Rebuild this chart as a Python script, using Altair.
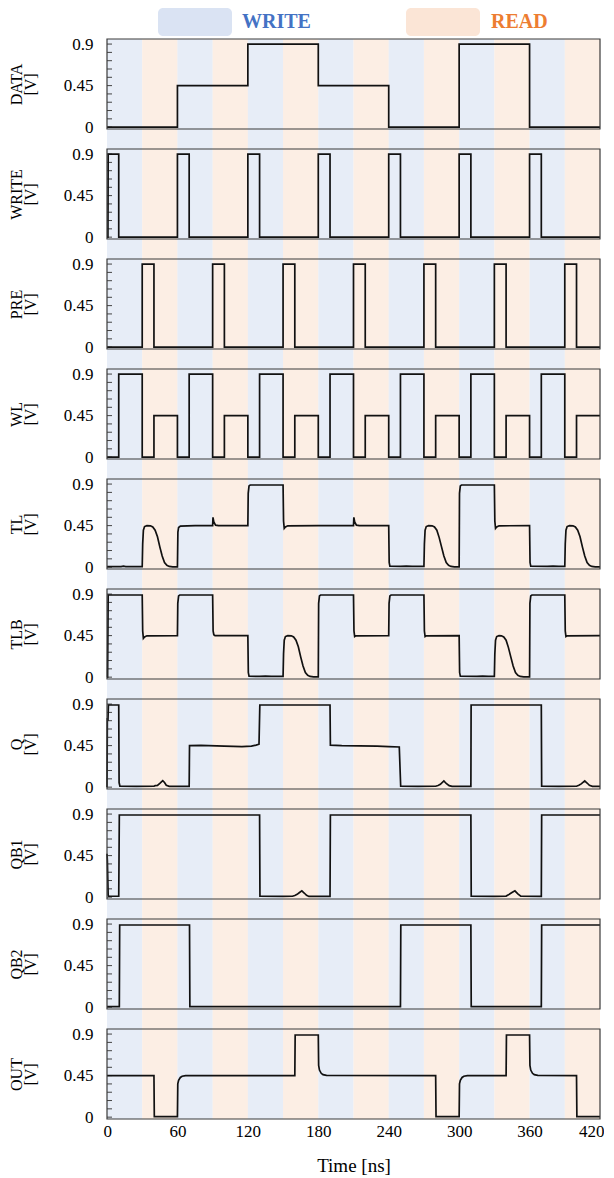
import altair as alt
import pandas as pd

# ---------------- data ----------------
BAND_START = [0, 30, 60, 90, 120, 150, 180, 210, 240, 270, 300, 330, 360, 390]
BAND_END = [30, 60, 90, 120, 150, 180, 210, 240, 270, 300, 330, 360, 390, 420]
BAND_PHASE = ["WRITE", "READ", "WRITE", "READ", "WRITE", "READ", "WRITE",
              "READ", "WRITE", "READ", "WRITE", "READ", "WRITE", "READ"]

PHASES = ["WRITE", "READ"]
BOX_COLORS = ["#DAE3F3", "#FBE5D6"]
TEXT_COLORS = ["#4472C4", "#ED7D31"]

X_TICKS = [0, 60, 120, 180, 240, 300, 360, 420]
Y_LABELS = [0, 0.45, 0.9]
Y_MINOR = [0, 0.09, 0.18, 0.27, 0.36, 0.45, 0.54, 0.63, 0.72, 0.81, 0.9]

DATA = [(0, 0), (60, 0), (60, 0.45), (120, 0.45), (120, 0.9), (180, 0.9), (180, 0.45),
        (240, 0.45), (240, 0), (300, 0), (300, 0.9), (360, 0.9), (360, 0), (420, 0)]

WRITE = [(0, 0), (0.8, 0), (1.0, 0.9), (10, 0.9), (10, 0), (60, 0), (60, 0.9), (70, 0.9),
         (70, 0), (120, 0), (120, 0.9), (130, 0.9), (130, 0), (180, 0), (180, 0.9),
         (190, 0.9), (190, 0), (240, 0), (240, 0.9), (250, 0.9), (250, 0), (300, 0),
         (300, 0.9), (310, 0.9), (310, 0), (360, 0), (360, 0.9), (370, 0.9), (370, 0),
         (420, 0)]

PRE = [(0, 0), (30, 0), (30, 0.9), (40, 0.9), (40, 0), (90, 0), (90, 0.9), (100, 0.9),
       (100, 0), (150, 0), (150, 0.9), (160, 0.9), (160, 0), (210, 0), (210, 0.9),
       (220, 0.9), (220, 0), (270, 0), (270, 0.9), (280, 0.9), (280, 0), (330, 0),
       (330, 0.9), (340, 0.9), (340, 0), (390, 0), (390, 0.9), (400, 0.9), (400, 0),
       (420, 0)]

WL = [(0, 0), (10, 0), (10, 0.9), (30, 0.9), (30, 0), (40, 0), (40, 0.45), (60, 0.45),
      (60, 0), (70, 0), (70, 0.9), (90, 0.9), (90, 0), (100, 0), (100, 0.45), (120, 0.45),
      (120, 0), (130, 0), (130, 0.9), (150, 0.9), (150, 0), (160, 0), (160, 0.45),
      (180, 0.45), (180, 0), (190, 0), (190, 0.9), (210, 0.9), (210, 0), (220, 0),
      (220, 0.45), (240, 0.45), (240, 0), (250, 0), (250, 0.9), (270, 0.9), (270, 0),
      (280, 0), (280, 0.45), (300, 0.45), (300, 0), (310, 0), (310, 0.9), (330, 0.9),
      (330, 0), (340, 0), (340, 0.45), (360, 0.45), (360, 0), (370, 0), (370, 0.9),
      (390, 0.9), (390, 0), (400, 0), (400, 0.45), (420, 0.45)]

TL = [(0, 0.005), (12, 0.005), (14, 0.01), (16, 0.005), (30, 0.005),
      (30.4, 0.25), (31, 0.40), (32, 0.44), (34, 0.45), (37, 0.448), (39, 0.435),
      (41, 0.40), (43, 0.33), (45, 0.22), (47, 0.12), (49, 0.05), (51, 0.02),
      (53, 0.008), (56, 0.004), (60, 0.004),
      (60.4, 0.38), (61, 0.43), (62.5, 0.445), (75, 0.45), (90, 0.45), (90.3, 0.54),
      (91, 0.49), (92.5, 0.455), (95, 0.45), (120, 0.45),
      (120.3, 0.8), (121, 0.88), (122, 0.89), (150, 0.89),
      (150.4, 0.5), (151, 0.42), (152, 0.435), (154, 0.448), (180, 0.45), (210, 0.45),
      (210.3, 0.54), (211, 0.49), (212.5, 0.455), (215, 0.45), (240, 0.45),
      (240.4, 0.05), (241, 0.01), (250, 0.008), (255, 0.012), (260, 0.008), (270, 0.008),
      (270.4, 0.25), (271, 0.40), (272, 0.44), (274, 0.45), (277, 0.448), (279, 0.435),
      (281, 0.40), (283, 0.32), (285, 0.22), (287, 0.12), (289, 0.05), (291, 0.02),
      (293, 0.008), (296, 0.004), (300, 0.004),
      (300.3, 0.8), (301, 0.88), (302, 0.89), (330, 0.89),
      (330.4, 0.5), (331, 0.42), (332, 0.435), (334, 0.448), (360, 0.45),
      (360.4, 0.05), (361, 0.01), (375, 0.008), (380, 0.012), (385, 0.008), (390, 0.008),
      (390.4, 0.25), (391, 0.40), (392, 0.44), (394, 0.45), (397, 0.448), (399, 0.435),
      (401, 0.40), (403, 0.33), (405, 0.22), (407, 0.12), (409, 0.05), (411, 0.02),
      (413, 0.008), (416, 0.004), (420, 0.004)]

TLB = [(0, 0.0), (0.5, 0.0), (1, 0.89), (30, 0.89),
       (30.4, 0.5), (31, 0.42), (32, 0.435), (34, 0.448), (60, 0.45),
       (60.3, 0.8), (61, 0.88), (62, 0.89), (90, 0.89),
       (90.4, 0.5), (91, 0.46), (92, 0.45), (120, 0.45),
       (120.4, 0.05), (121, 0.01), (130, 0.008), (135, 0.012), (140, 0.008), (150, 0.008),
       (150.4, 0.25), (151, 0.40), (152, 0.44), (154, 0.45), (157, 0.448), (159, 0.435),
       (161, 0.40), (163, 0.33), (165, 0.22), (167, 0.12), (169, 0.05), (171, 0.02),
       (173, 0.008), (176, 0.004), (180, 0.004),
       (180.3, 0.8), (181, 0.88), (182, 0.89), (210, 0.89),
       (210.4, 0.5), (211, 0.44), (212, 0.448), (240, 0.45),
       (240.3, 0.8), (241, 0.88), (242, 0.89), (270, 0.89),
       (270.4, 0.5), (271, 0.44), (272, 0.448), (300, 0.45),
       (300.4, 0.05), (301, 0.01), (315, 0.008), (320, 0.012), (325, 0.008), (330, 0.008),
       (330.4, 0.25), (331, 0.40), (332, 0.44), (334, 0.45), (336, 0.448), (338, 0.435),
       (340, 0.40), (342, 0.32), (344, 0.22), (346, 0.12), (348, 0.05), (350, 0.02),
       (352, 0.008), (355, 0.004), (360, 0.004),
       (360.3, 0.8), (361, 0.88), (362, 0.89), (390, 0.89),
       (390.4, 0.5), (391, 0.44), (392, 0.448), (420, 0.45)]

Q = [(0, 0.0), (0.3, 0.75), (0.8, 0.72), (1.2, 0.89), (10, 0.89), (10.3, 0.05), (11, 0.01),
     (25, 0.008), (40, 0.01), (41, 0.016), (43, 0.018), (45, 0.04), (47.5, 0.07), (49, 0.05),
     (50.5, 0.02), (53, 0.008), (70, 0.008),
     (70.3, 0.45), (80, 0.452), (100, 0.445), (115, 0.44), (123, 0.445), (127, 0.455),
     (129.5, 0.465), (130.2, 0.89), (190, 0.89),
     (190.3, 0.455), (200, 0.45), (230, 0.445), (240, 0.44), (249, 0.435), (250.2, 0.01),
     (265, 0.008), (280, 0.01), (282, 0.018), (284, 0.03), (287, 0.068), (289, 0.04),
     (291.5, 0.016), (294, 0.008), (310, 0.008),
     (310.2, 0.89), (370, 0.89), (370.3, 0.01), (385, 0.008), (400, 0.01), (402, 0.02),
     (404, 0.035), (407, 0.068), (409, 0.045), (411, 0.02), (413.5, 0.008), (420, 0.008)]

QB1 = [(0, 0.47), (0.3, 0.40), (1, 0.02), (1.5, 0.01), (10, 0.01), (10.5, 0.89), (130, 0.89),
       (130.3, 0.01), (150, 0.008), (158, 0.01), (160, 0.018), (162, 0.03), (164, 0.05),
       (166, 0.068), (168, 0.045), (170, 0.02), (172, 0.008), (190, 0.008),
       (190.3, 0.89), (310, 0.89), (310.3, 0.01), (330, 0.008), (340, 0.012), (342, 0.025),
       (345, 0.05), (347.5, 0.068), (350, 0.035), (352.5, 0.01), (370, 0.008),
       (370.3, 0.89), (420, 0.89)]

QB2 = [(0, 0.005), (10.5, 0.005), (10.8, 0.89), (70.3, 0.89), (70.6, 0.005), (250, 0.005),
       (250.3, 0.89), (310, 0.89), (310.3, 0.005), (370, 0.005), (370.3, 0.89), (420, 0.89)]

OUT = [(0, 0.45), (40, 0.45), (40.3, 0.005), (60, 0.005), (60.3, 0.36), (61, 0.40),
       (62.5, 0.43), (64, 0.443), (67, 0.45), (160, 0.45), (160.3, 0.89), (180, 0.89),
       (180.3, 0.56), (181, 0.51), (182.5, 0.475), (184, 0.46), (187, 0.452), (280, 0.45),
       (280.3, 0.005), (300, 0.005), (300.3, 0.36), (301, 0.40), (302.5, 0.43),
       (304, 0.443), (307, 0.45), (340, 0.45), (340.3, 0.89), (360, 0.89), (360.3, 0.56),
       (361, 0.51), (362.5, 0.475), (364, 0.46), (367, 0.452), (400, 0.45),
       (400.3, 0.005), (420, 0.005)]

SIGNAL_NAMES = ["DATA", "WRITE", "PRE", "WL", "TL", "TLB", "Q", "QB1", "QB2", "OUT"]
SIGNAL_POINTS = [DATA, WRITE, PRE, WL, TL, TLB, Q, QB1, QB2, OUT]

# ---------------- layout / style ----------------
W = 493
H = 90
HALF_GAP = 10
FONT = "Liberation Serif"

band_df = pd.DataFrame({"start": BAND_START, "end": BAND_END, "phase": BAND_PHASE})
tick_df = pd.DataFrame({"v": Y_MINOR})
one_df = pd.DataFrame({"a": [0]})

xscale = alt.Scale(domain=[0, 420], nice=False, zero=False)
yscale = alt.Scale(domain=[-0.02, 0.955], nice=False, zero=False)
band_color = alt.Scale(domain=PHASES, range=BOX_COLORS)


def make_panel(name, pts, first=False, last=False):
    df = pd.DataFrame({"t": [p[0] for p in pts], "v": [p[1] for p in pts],
                       "i": list(range(len(pts)))})
    if last:
        xaxis = alt.Axis(values=X_TICKS, ticks=False, domain=False, grid=False,
                         labelFont=FONT, labelFontSize=17, labelColor="#000",
                         labelPadding=4, title="Time [ns]", titleFont=FONT,
                         titleFontSize=19, titleFontWeight="normal", titleColor="#000",
                         titlePadding=17, labelFlush=True, labelFlushOffset=4)
    else:
        xaxis = None
    yaxis = alt.Axis(values=Y_LABELS, format=".2~f", ticks=False, domain=False, grid=False,
                     labelFont=FONT, labelFontSize=17, labelColor="#000", labelPadding=14,
                     title=[name, "[V]"], titleFont=FONT, titleFontSize=16,
                     titleFontWeight="normal", titleColor="#000", titleLineHeight=14,
                     titlePadding=25)
    band_top = 0 if first else -HALF_GAP
    band_bot = H if last else H + HALF_GAP
    bands = alt.Chart(band_df).mark_rect(opacity=0.65).encode(
        x=alt.X("start:Q", scale=xscale, axis=xaxis),
        x2="end:Q",
        y=alt.value(band_top),
        y2=alt.value(band_bot),
        color=alt.Color("phase:N", scale=band_color, legend=None),
    )
    ticks = alt.Chart(tick_df).mark_rule(color="#444", strokeWidth=1).encode(
        y=alt.Y("v:Q", scale=yscale, axis=yaxis),
        x=alt.value(0),
        x2=alt.value(5),
    )
    line = alt.Chart(df).mark_line(color="#111", strokeWidth=1.7).encode(
        x=alt.X("t:Q", scale=xscale, axis=xaxis),
        y=alt.Y("v:Q", scale=yscale, axis=yaxis),
        order="i:Q",
    )
    frame = alt.Chart(one_df).mark_rect(fillOpacity=0, stroke="#3a3a3a", strokeWidth=1.2).encode(
        x=alt.value(0), x2=alt.value(W), y=alt.value(0), y2=alt.value(H)
    )
    layers = [bands, ticks, line, frame]
    if first:
        leg_x = [51, 299]
        txt_x = [135, 384]
        for k in range(2):
            box = alt.Chart(one_df).mark_rect(cornerRadius=5, color=BOX_COLORS[k]).encode(
                x=alt.value(leg_x[k]), x2=alt.value(leg_x[k] + 74),
                y=alt.value(-31), y2=alt.value(-3))
            txt = alt.Chart(pd.DataFrame({"label": [PHASES[k]]})).mark_text(
                font=FONT, fontSize=20, fontWeight="bold", color=TEXT_COLORS[k],
                align="left", baseline="middle").encode(
                text="label:N", x=alt.value(txt_x[k]), y=alt.value(-17))
            layers += [box, txt]
    return alt.layer(*layers).properties(width=W, height=H)


panels = [make_panel(n, p, first=(i == 0), last=(i == len(SIGNAL_NAMES) - 1))
          for i, (n, p) in enumerate(zip(SIGNAL_NAMES, SIGNAL_POINTS))]

chart = alt.vconcat(*panels, spacing=0).properties(
    padding={"left": 0, "top": 0, "right": 0, "bottom": 0}
).configure_view(stroke=None)

chart.save("out.html", embed_options={"renderer": "svg", "actions": False})
